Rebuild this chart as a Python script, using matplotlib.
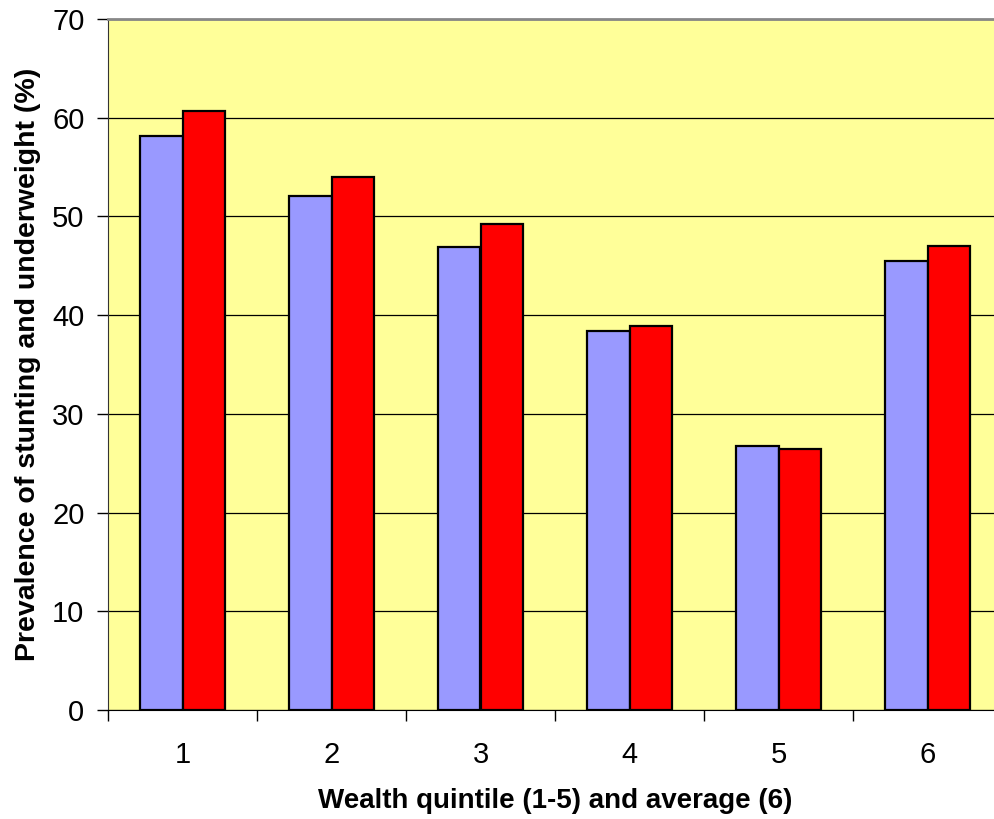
import numpy as np
import matplotlib.pyplot as plt
from matplotlib.ticker import FixedLocator

plt.rcParams['font.family'] = ['Liberation Sans', 'DejaVu Sans']

# Prevalence (%) by wealth quintile (1-5) and average (6)
groups = ['1', '2', '3', '4', '5', '6']
stunting = [58.1, 52.1, 46.9, 38.4, 26.7, 45.5]
underweight = [60.7, 54.0, 49.2, 38.9, 26.4, 47.0]

x = np.arange(len(groups))
w = 0.285

fig = plt.figure(figsize=(9.94, 8.19), dpi=100)
ax = fig.add_axes([108 / 994, (819 - 710) / 819, 894 / 994, 691 / 819])
ax.set_facecolor('#FFFF99')

ax.bar(x - w / 2, stunting, w, color='#9999FF', edgecolor='black', linewidth=1.6, zorder=3)
ax.bar(x + w / 2, underweight, w, color='#FF0000', edgecolor='black', linewidth=1.6, zorder=3)

ax.set_xlim(-0.5, len(groups) - 0.5)
ax.set_ylim(0, 70)
ax.set_yticks(range(0, 71, 10))
ax.yaxis.grid(True, color='black', linewidth=0.9, zorder=1)

# category labels in the middle, tick marks on the boundaries
ax.set_xticks(x)
ax.set_xticklabels(groups)
ax.xaxis.set_minor_locator(FixedLocator(np.arange(-0.5, len(groups), 1.0)))
ax.tick_params(axis='x', which='major', length=0, pad=22, labelsize=21)
ax.tick_params(axis='x', which='minor', length=8, width=1, direction='out')
ax.tick_params(axis='y', length=8, width=1, direction='out', pad=9, labelsize=21)

for side in ['top', 'right']:
    ax.spines[side].set_color('#888888')
    ax.spines[side].set_linewidth(2)
ax.spines['left'].set_color('#333333')
ax.spines['bottom'].set_color('black')

ax.set_xlabel('Wealth quintile (1-5) and average (6)', fontsize=20, fontweight='bold', labelpad=14)
ax.set_ylabel('Prevalence of stunting and underweight (%)', fontsize=20.5, fontweight='bold', labelpad=8)

fig.savefig('out.png', dpi=100)
